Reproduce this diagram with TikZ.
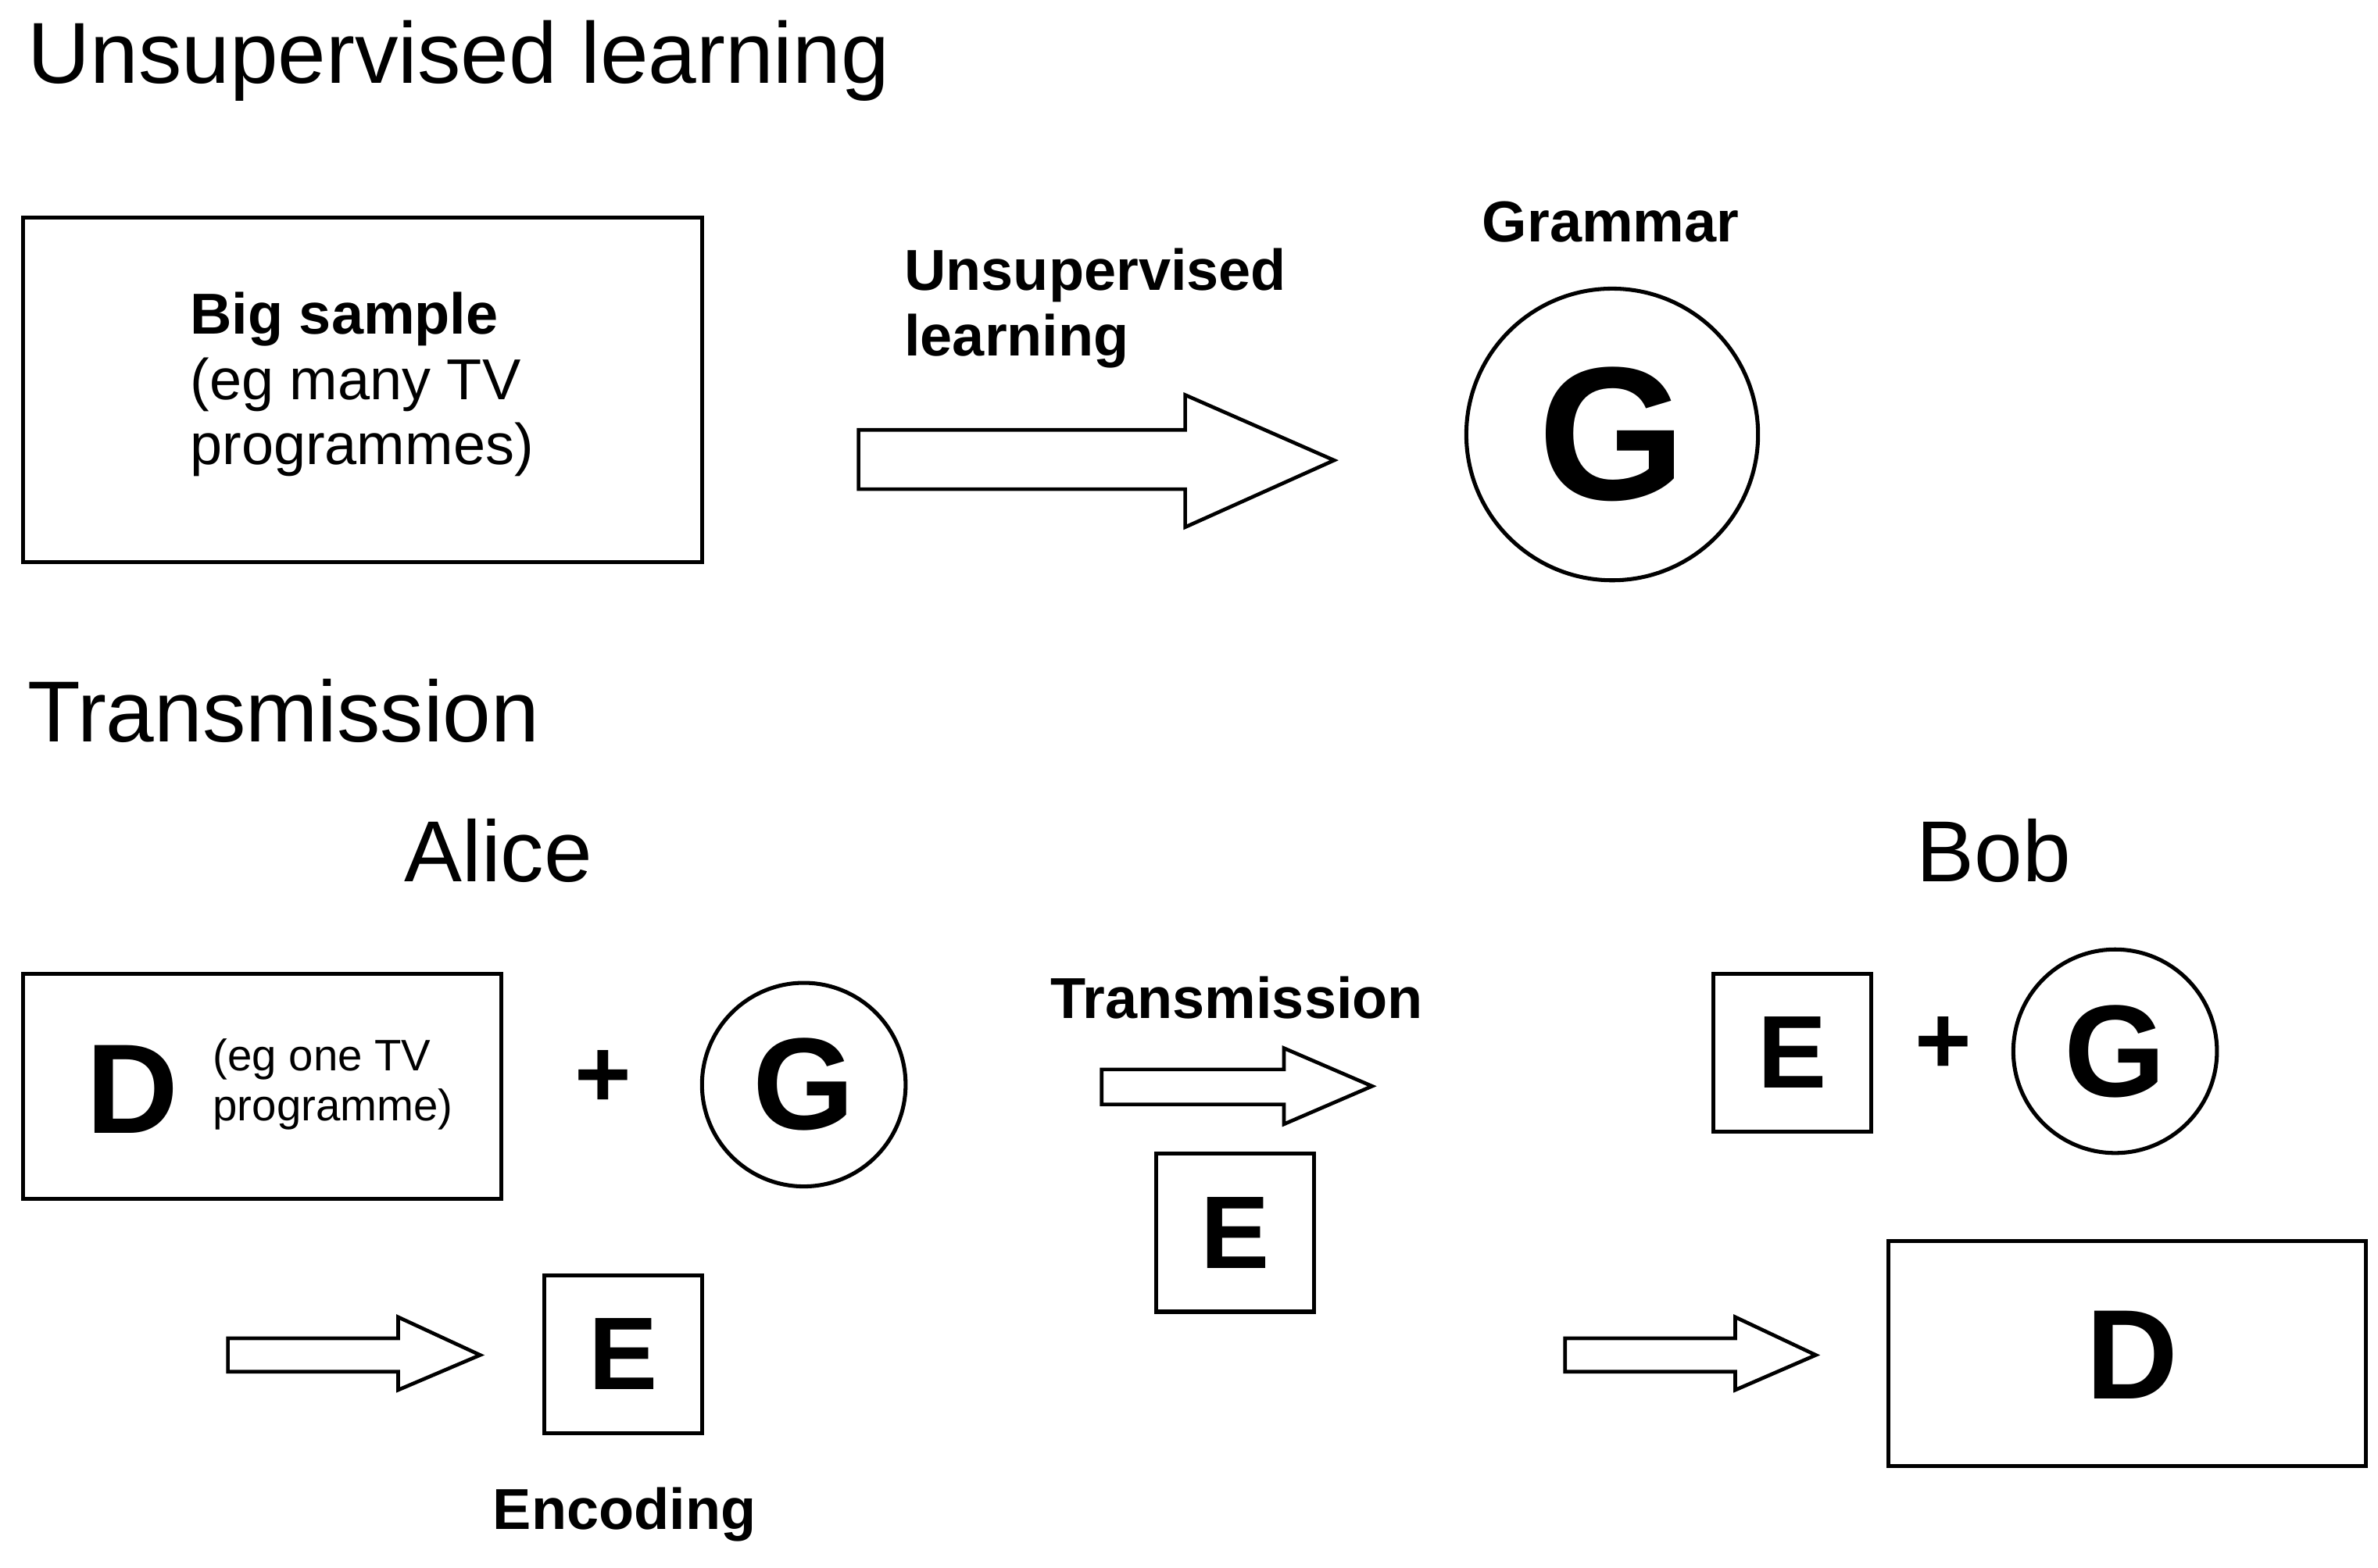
\documentclass[tikz,border=0pt]{standalone}
\usepackage{fontspec}
\setmainfont{Liberation Sans}
\begin{document}
\begin{tikzpicture}[x=1pt,y=-1pt,
  bx/.style={draw,line width=2.6pt},
  ttl/.style={font=\fontsize{57}{64}\selectfont},
  lbl/.style={font=\fontsize{38}{43}\selectfont\bfseries,align=left},
  big/.style={font=\fontsize{#1}{#1}\selectfont\bfseries},
  barrow/.style={draw,line width=2.4pt,fill=white}]
\useasboundingbox (0,0) rectangle (1565,1032);
\node[ttl,anchor=base west,inner sep=0pt] (t1) at (18,55) {Unsupervised learning};
\node[bx,minimum width=447pt,minimum height=227pt] (bs) at (238.5,256.5) {};
\node[anchor=west,align=left,inner sep=0pt,font=\fontsize{38}{43}\selectfont] (bst) at (125,253) {\textbf{Big sample}\\(eg many TV\\programmes)};
\draw[barrow] (565,283) -- (780,283) -- (780,260) -- (878,303) -- (780,347) -- (780,322) -- (565,322) -- cycle;
\node[lbl,anchor=west,inner sep=0pt] (ul) at (595,203) {Unsupervised\\learning};
\node[lbl] (gr) at (1060,146) {Grammar};
\node[bx,circle,minimum size=192pt,big=125] (g1) at (1061,286) {G};
\node[ttl,anchor=west,inner sep=0pt] (t2) at (18,468) {Transmission};
\node[ttl] (al) at (328,560) {Alice};
\node[ttl] (bo) at (1312,560) {Bob};
\node[bx,minimum width=315pt,minimum height=148pt] (dbox) at (172.5,715) {};
\node[big=84] (d1) at (87,717) {D};
\node[anchor=west,align=left,inner sep=0pt,font=\fontsize{29}{33}\selectfont] (dt) at (140,714) {(eg one TV\\programme)};
\node[big=64] (p1) at (397,710) {+};
\node[bx,circle,minimum size=134pt,big=86] (g2) at (529,714) {G};
\draw[barrow] (150,881) -- (262,881) -- (262,867) -- (316,892) -- (262,915) -- (262,903) -- (150,903) -- cycle;
\node[bx,minimum size=104pt,big=68] (e1) at (410,891.5) {E};
\node[lbl] (enc) at (411,997) {Encoding};
\node[lbl] (tr) at (814,657) {Transmission};
\draw[barrow] (725,704) -- (845,704) -- (845,690) -- (903,715) -- (845,740) -- (845,727) -- (725,727) -- cycle;
\node[bx,minimum size=104pt,big=68] (e2) at (813,811.5) {E};
\node[bx,minimum size=104pt,big=68] (e3) at (1179.5,693) {E};
\node[big=64] (p2) at (1279,688) {+};
\node[bx,circle,minimum size=134pt,big=86] (g3) at (1392,692) {G};
\draw[barrow] (1030,881) -- (1142,881) -- (1142,867) -- (1195,892) -- (1142,915) -- (1142,903) -- (1030,903) -- cycle;
\node[bx,minimum width=314pt,minimum height=148pt] (dbox2) at (1400,891) {};
\node[big=84] (d2) at (1403,892) {D};
\end{tikzpicture}
\end{document}
